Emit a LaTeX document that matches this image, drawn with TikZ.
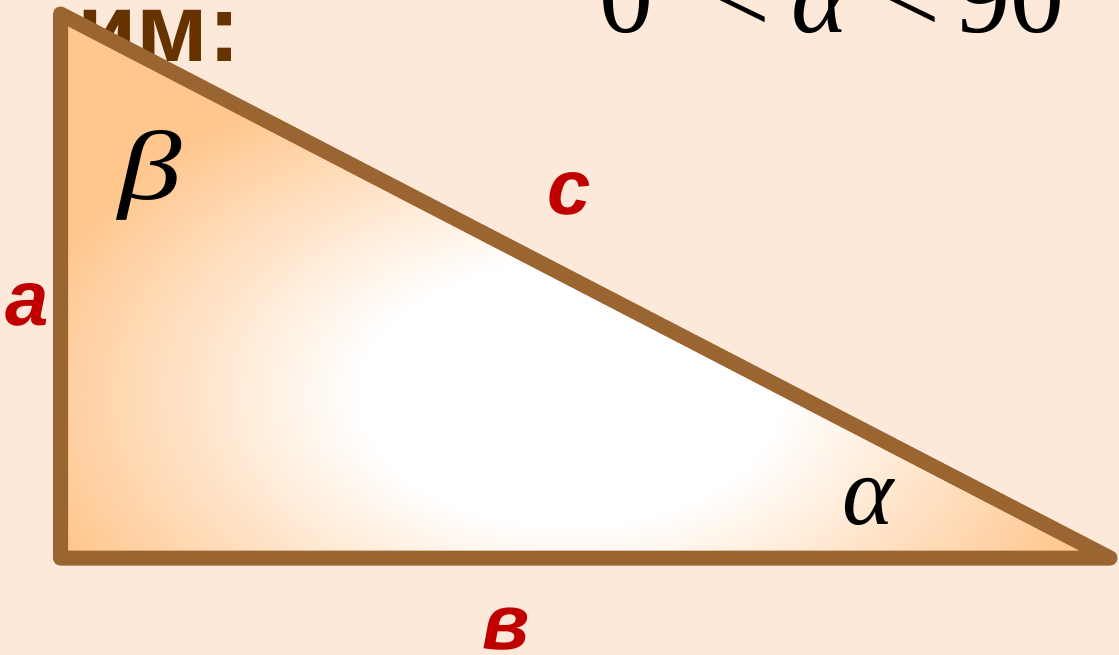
\documentclass[tikz,border=0pt]{standalone}
\usepackage{fontspec}
\setmainfont{Liberation Serif}
\newfontfamily\lsans{Liberation Sans}
\definecolor{bgc}{HTML}{FCE9D9}
\definecolor{orng}{HTML}{FFC68E}
\definecolor{edgec}{HTML}{9B6532}
\definecolor{lblred}{HTML}{C00000}
\definecolor{txtbrown}{HTML}{663300}
\tikzset{
  sidelbl/.style={inner sep=0pt, text=lblred, font=\lsans\bfseries\itshape\fontsize{78}{80}\selectfont},
  anglelbl/.style={inner sep=0pt, text=black, font=\itshape\fontsize{98}{100}\selectfont},
  toptxt/.style={inner sep=0pt, anchor=base, text=black, font=\fontsize{108}{110}\selectfont},
  edgeline/.style={draw=edgec, line width=15pt, line join=round}
}
\begin{document}
\begin{tikzpicture}[x=1pt,y=-1pt]
\useasboundingbox (0,0) rectangle (1119,655);
\fill[bgc] (0,0) rectangle (1119,655);
% partially hidden heading text
\node[inner sep=0pt, anchor=base west, text=txtbrown, font=\lsans\bfseries\fontsize{97}{110}\selectfont] (head) at (77,62) {им:};
% triangle
\coordinate (A) at (60.5,14);
\coordinate (B) at (60.5,558);
\coordinate (C) at (1110,558);
\begin{scope}
  \clip (A) -- (B) -- (C) -- cycle;
  \fill[orng] (A) -- (B) -- (C) -- cycle;
  \foreach \i in {0,...,60}{
    \pgfmathsetmacro{\f}{1-0.62*\i/60}
    \pgfmathsetmacro{\p}{100*\i/60}
    \fill[white!\p!orng] (570,395) ellipse ({560*\f} and {350*\f});
  }
\end{scope}
\draw[edgeline] (A) -- (B) -- (C) -- cycle;
% labels
\node[sidelbl] (la) at (27,305) {a};
\node[sidelbl] (lc) at (569,194) {c};
\node[sidelbl] (lb) at (506,629) {в};
\node[anglelbl] (beta) at (150,175) {\scalebox{1.3}[1]{β}};
\node[anglelbl] (alpha) at (868,502) {α};
% top-right inequality (cut off at top)
\node[toptxt] (z0) at (626.5,33) {0};
\node[toptxt, anchor=base west] (d0) at (652,33) {°};
\node[toptxt] (lt1) at (739.5,33) {<};
\node[toptxt, font=\itshape\fontsize{108}{110}\selectfont] (al2) at (819.5,33) {α};
\node[toptxt] (lt2) at (910,33) {<};
\node[toptxt] (n90) at (1010.5,33) {90};
\node[toptxt, anchor=base west] (d90) at (1061,33) {°};
\end{tikzpicture}
\end{document}
